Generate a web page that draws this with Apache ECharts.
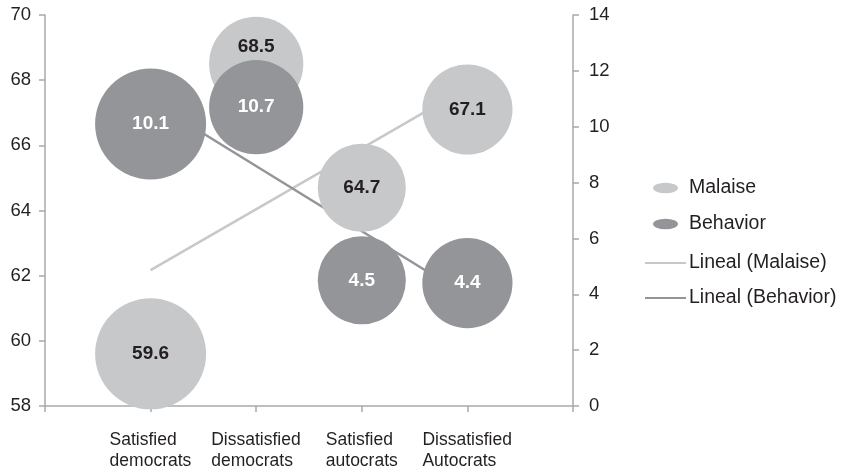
<!DOCTYPE html>
<html>
<head>
<meta charset="utf-8">
<script src="https://cdn.jsdelivr.net/npm/echarts@6/dist/echarts.min.js"></script>
<style>
  html, body { margin: 0; padding: 0; background: #ffffff; }
  #chart { width: 844px; height: 473px; }
</style>
</head>
<body>
<div id="chart"></div>
<script>
// Groups along the horizontal axis (placed at x = 1..4)
const categories = ['Satisfied democrats', 'Dissatisfied democrats', 'Satisfied autocrats', 'Dissatisfied Autocrats'];
// Malaise scores (left axis)
const malaise = [59.6, 68.5, 64.7, 67.1];
// Behavior scores (right axis)
const behavior = [10.1, 10.7, 4.5, 4.4];
// Relative bubble weight for each group (bubble area)
const bubbleWeight = [100, 72, 63, 66];
// Axis tick settings
const leftTicks = { min: 58, max: 70, step: 2 };
const rightTicks = { min: 0, max: 14, step: 2 };

const LIGHT = '#c7c8ca';
const DARK = '#939598';
const TEXT = '#231f20';
const AXIS = '#a7a9ac';
const FONT = 'Liberation Sans, Arial, Helvetica, sans-serif';
const CAT_FONT_SIZE = 17.5;

// Least-squares linear trend over x = 1..n, evaluated at the end points
function linearTrend(values) {
  const n = values.length;
  const xs = values.map((_, i) => i + 1);
  const mx = xs.reduce((a, b) => a + b, 0) / n;
  const my = values.reduce((a, b) => a + b, 0) / n;
  let num = 0, den = 0;
  for (let i = 0; i < n; i++) {
    num += (xs[i] - mx) * (values[i] - my);
    den += (xs[i] - mx) * (xs[i] - mx);
  }
  const slope = num / den;
  const icpt = my - slope * mx;
  return [[1, icpt + slope], [n, icpt + slope * n]];
}

const bubbleSize = (val) => 111 * Math.sqrt(val[2] / 100);

// Category labels: two lines, left-aligned with each other, block centred on the tick
const measureCtx = document.createElement('canvas').getContext('2d');
measureCtx.font = CAT_FONT_SIZE + 'px ' + FONT;
const catRich = {};
categories.forEach((c, i) => {
  const w = Math.max(...c.split(' ').map((s) => measureCtx.measureText(s).width));
  catRich['c' + i] = { width: Math.ceil(w), align: 'left', fontSize: CAT_FONT_SIZE, lineHeight: 21, color: TEXT, fontFamily: FONT };
});

const bubbleLabel = (color) => ({
  show: true,
  position: 'inside',
  fontSize: 19,
  fontWeight: 'bold',
  color: color,
  fontFamily: FONT,
  formatter: (p) => p.value[1].toFixed(1)
});

// Malaise points; the label of a bubble that sits above an overlapping
// Behavior bubble is lifted into the visible upper part of the bubble
const malaisePoints = malaise.map((v, i) => {
  const item = { value: [i + 1, v, bubbleWeight[i]] };
  if (i === 1) item.label = { offset: [0, -17] };
  return item;
});
const behaviorPoints = behavior.map((v, i) => [i + 1, v, bubbleWeight[i]]);

const chart = echarts.init(document.getElementById('chart'), null, { renderer: 'canvas' });

chart.setOption({
  animation: false,
  backgroundColor: '#ffffff',
  textStyle: { fontFamily: FONT },
  grid: { left: 45, right: 271, top: 15, bottom: 67, containLabel: false },
  legend: [
    {
      orient: 'vertical',
      left: 648,
      top: 173,
      itemWidth: 25,
      itemHeight: 12,
      itemGap: 16,
      textStyle: { fontSize: 19.5, color: TEXT, fontFamily: FONT, padding: [0, 0, 0, 6] },
      data: [
        { name: 'Malaise', icon: 'path://M0,5a12,5 0 1,0 24,0a12,5 0 1,0 -24,0z' },
        { name: 'Behavior', icon: 'path://M0,5a12,5 0 1,0 24,0a12,5 0 1,0 -24,0z' }
      ],
      selectedMode: false
    },
    {
      orient: 'vertical',
      left: 640,
      top: 248,
      itemWidth: 41,
      itemHeight: 2,
      itemGap: 15,
      textStyle: { fontSize: 19.5, color: TEXT, fontFamily: FONT, padding: [0, 0, 0, -2] },
      data: [
        { name: 'Lineal (Malaise)', icon: 'rect' },
        { name: 'Lineal (Behavior)', icon: 'rect' }
      ],
      selectedMode: false
    }
  ],
  xAxis: {
    type: 'value',
    min: 0,
    max: 5,
    interval: 1,
    splitLine: { show: false },
    axisLine: { show: true, lineStyle: { color: AXIS, width: 1.5 } },
    axisTick: { show: true, length: 6, lineStyle: { color: AXIS, width: 1.5 } },
    axisLabel: {
      margin: 24,
      fontSize: CAT_FONT_SIZE,
      lineHeight: 21,
      color: TEXT,
      fontFamily: FONT,
      showMinLabel: true,
      showMaxLabel: true,
      rich: catRich,
      formatter: (v) => {
        const i = v - 1;
        const c = categories[i];
        if (!c) return '';
        return c.split(' ').map((s) => '{c' + i + '|' + s + '}').join('\n');
      }
    }
  },
  yAxis: [
    {
      type: 'value',
      position: 'left',
      min: leftTicks.min,
      max: leftTicks.max,
      interval: leftTicks.step,
      splitLine: { show: false },
      axisLine: { show: true, lineStyle: { color: AXIS, width: 1.5 } },
      axisTick: { show: true, length: 6, lineStyle: { color: AXIS, width: 1.5 } },
      axisLabel: { margin: 14, fontSize: 18.5, color: TEXT, fontFamily: FONT }
    },
    {
      type: 'value',
      position: 'right',
      min: rightTicks.min,
      max: rightTicks.max,
      interval: rightTicks.step,
      splitLine: { show: false },
      axisLine: { show: true, lineStyle: { color: AXIS, width: 1.5 } },
      axisTick: { show: true, length: 6, lineStyle: { color: AXIS, width: 1.5 } },
      axisLabel: { margin: 16, fontSize: 18.5, color: TEXT, fontFamily: FONT }
    }
  ],
  series: [
    {
      name: 'Lineal (Malaise)',
      type: 'line',
      yAxisIndex: 0,
      data: linearTrend(malaise),
      showSymbol: false,
      symbol: 'none',
      lineStyle: { color: LIGHT, width: 2.5 },
      itemStyle: { color: LIGHT },
      silent: true,
      z: 1
    },
    {
      name: 'Lineal (Behavior)',
      type: 'line',
      yAxisIndex: 1,
      data: linearTrend(behavior),
      showSymbol: false,
      symbol: 'none',
      lineStyle: { color: DARK, width: 2.5 },
      itemStyle: { color: DARK },
      silent: true,
      z: 1
    },
    {
      name: 'Malaise',
      type: 'scatter',
      yAxisIndex: 0,
      clip: false,
      data: malaisePoints,
      symbolSize: bubbleSize,
      itemStyle: { color: LIGHT, opacity: 1 },
      label: { show: false },
      emphasis: { disabled: true },
      z: 2
    },
    {
      name: 'Behavior',
      type: 'scatter',
      yAxisIndex: 1,
      clip: false,
      data: behaviorPoints,
      symbolSize: bubbleSize,
      itemStyle: { color: DARK, opacity: 1 },
      label: bubbleLabel('#ffffff'),
      emphasis: { disabled: true },
      z: 3
    },
    {
      // Malaise value labels, kept above every bubble
      type: 'scatter',
      yAxisIndex: 0,
      clip: false,
      data: malaisePoints,
      symbolSize: bubbleSize,
      itemStyle: { color: 'rgba(0,0,0,0)', opacity: 1 },
      label: bubbleLabel(TEXT),
      emphasis: { disabled: true },
      silent: true,
      z: 4
    }
  ]
});
</script>
</body>
</html>
